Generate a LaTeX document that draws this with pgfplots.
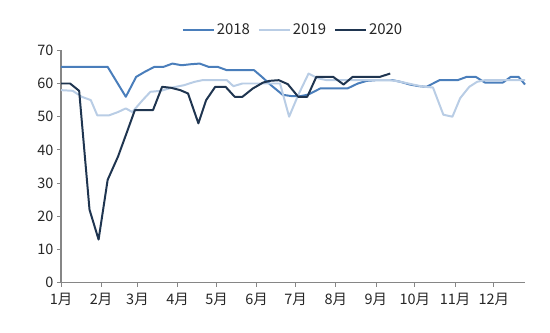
\documentclass[border=0pt]{standalone}
\usepackage{fontspec}
\setmainfont{Noto Sans CJK SC}
\usepackage{pgfplots}
\pgfplotsset{compat=1.18}
\definecolor{c18}{HTML}{4A7EBB}
\definecolor{c19}{HTML}{B9CDE5}
\definecolor{c20}{HTML}{1F3550}
\definecolor{axgray}{HTML}{868686}
\begin{document}
\begin{tikzpicture}
\useasboundingbox (0bp,0bp) rectangle (550bp,333bp);
\begin{axis}[
  at={(61bp,50.3bp)}, anchor=south west,
  scale only axis, width=464bp, height=232.4bp,
  xmin=0, xmax=358, ymin=0, ymax=70,
  axis lines=left, axis line style={-, draw=axgray, line width=1.1pt},
  tick align=outside, major tick length=4bp,
  tick style={draw=axgray, line width=0.9pt},
  xtick={0,31,59,90,120,151,181,212,243,273,304,334},
  xticklabels={1月,2月,3月,4月,5月,6月,7月,8月,9月,10月,11月,12月},
  ytick={0,10,20,30,40,50,60,70},
  tick label style={font=\fontsize{14.5}{16}\selectfont, text=black!85},
  xticklabel style={yshift=-3bp},
  /pgf/number format/assume math mode=true,
  legend columns=3,
  legend style={at={(0.5,1.087)}, anchor=center, draw=none, fill=none,
    font=\fontsize{15}{17}\selectfont, text=black!85,
    /tikz/every even column/.append style={column sep=6bp}},
  legend image code/.code={\draw[#1] (0bp,0bp) -- (31bp,0bp);},
  every axis plot/.append style={line width=2pt, line join=round, mark=none},
  clip=false,
]
\addplot[c18] coordinates {
(0,65) (36,65) (50,56) (58,62) (65,63.6) (72,65) (79,65) (86,66) (93,65.5)
(100,65.8) (107,66) (114,65) (121,65) (128,64) (135,64) (142,64) (149,64)
(155,62) (162,59.5) (171,56.6) (178,56.2) (185,56.2) (191,56.7) (200,58.5)
(207,58.5) (214,58.5) (221,58.5) (229,60) (236,60.8) (243,61) (250,61) (256,61)
(262,60.5) (269,59.7) (276,59.2) (282,59) (292,61) (299,61) (306,61) (313,62)
(320,62) (327,60.3) (334,60.3) (341,60.3) (347,62) (353,62) (358,59.7)
};
\addlegendentry{2018}
\addplot[c19] coordinates {
(0,58) (9,57.8) (16,56) (23,55) (28,50.4) (37,50.4) (44,51.4) (50,52.5) (55,51.4)
(63,55) (69,57.5) (77,57.8) (86,58.8) (95,59.5) (103,60.5) (109,61) (116,61)
(122,61) (128,61) (133,59.2) (140,60) (147,60) (154,60) (161,60) (169,60)
(176,50) (183,56.5) (191,63) (198,61.6) (205,61) (212,61) (219,61) (226,61)
(233,61) (240,61) (247,61) (254,61) (261,60.6) (268,60) (275,59.4) (281,59)
(287,58.8) (295,50.6) (302,50) (308,55.6) (315,59) (321,60.5) (327,61) (334,61)
(341,61) (348,61) (355,61) (358,61)
};
\addlegendentry{2019}
\addplot[c20] coordinates {
(0,60) (7,60) (14,57.8) (22,22) (29,13) (36,31) (44,38) (51,45.5) (57,52)
(64,52) (71,52) (78,59) (85,58.7) (92,58) (98,57) (106,48) (112,55) (119,59)
(127,59) (134,56) (140,56) (148,58.5) (156,60.3) (161,60.8) (168,61) (175,59.8)
(183,56) (190,56) (197,62) (204,62) (210,62) (218,59.7) (225,62) (231,62)
(239,62) (246,62) (254,63)
};
\addlegendentry{2020}
\end{axis}
\end{tikzpicture}
\end{document}
